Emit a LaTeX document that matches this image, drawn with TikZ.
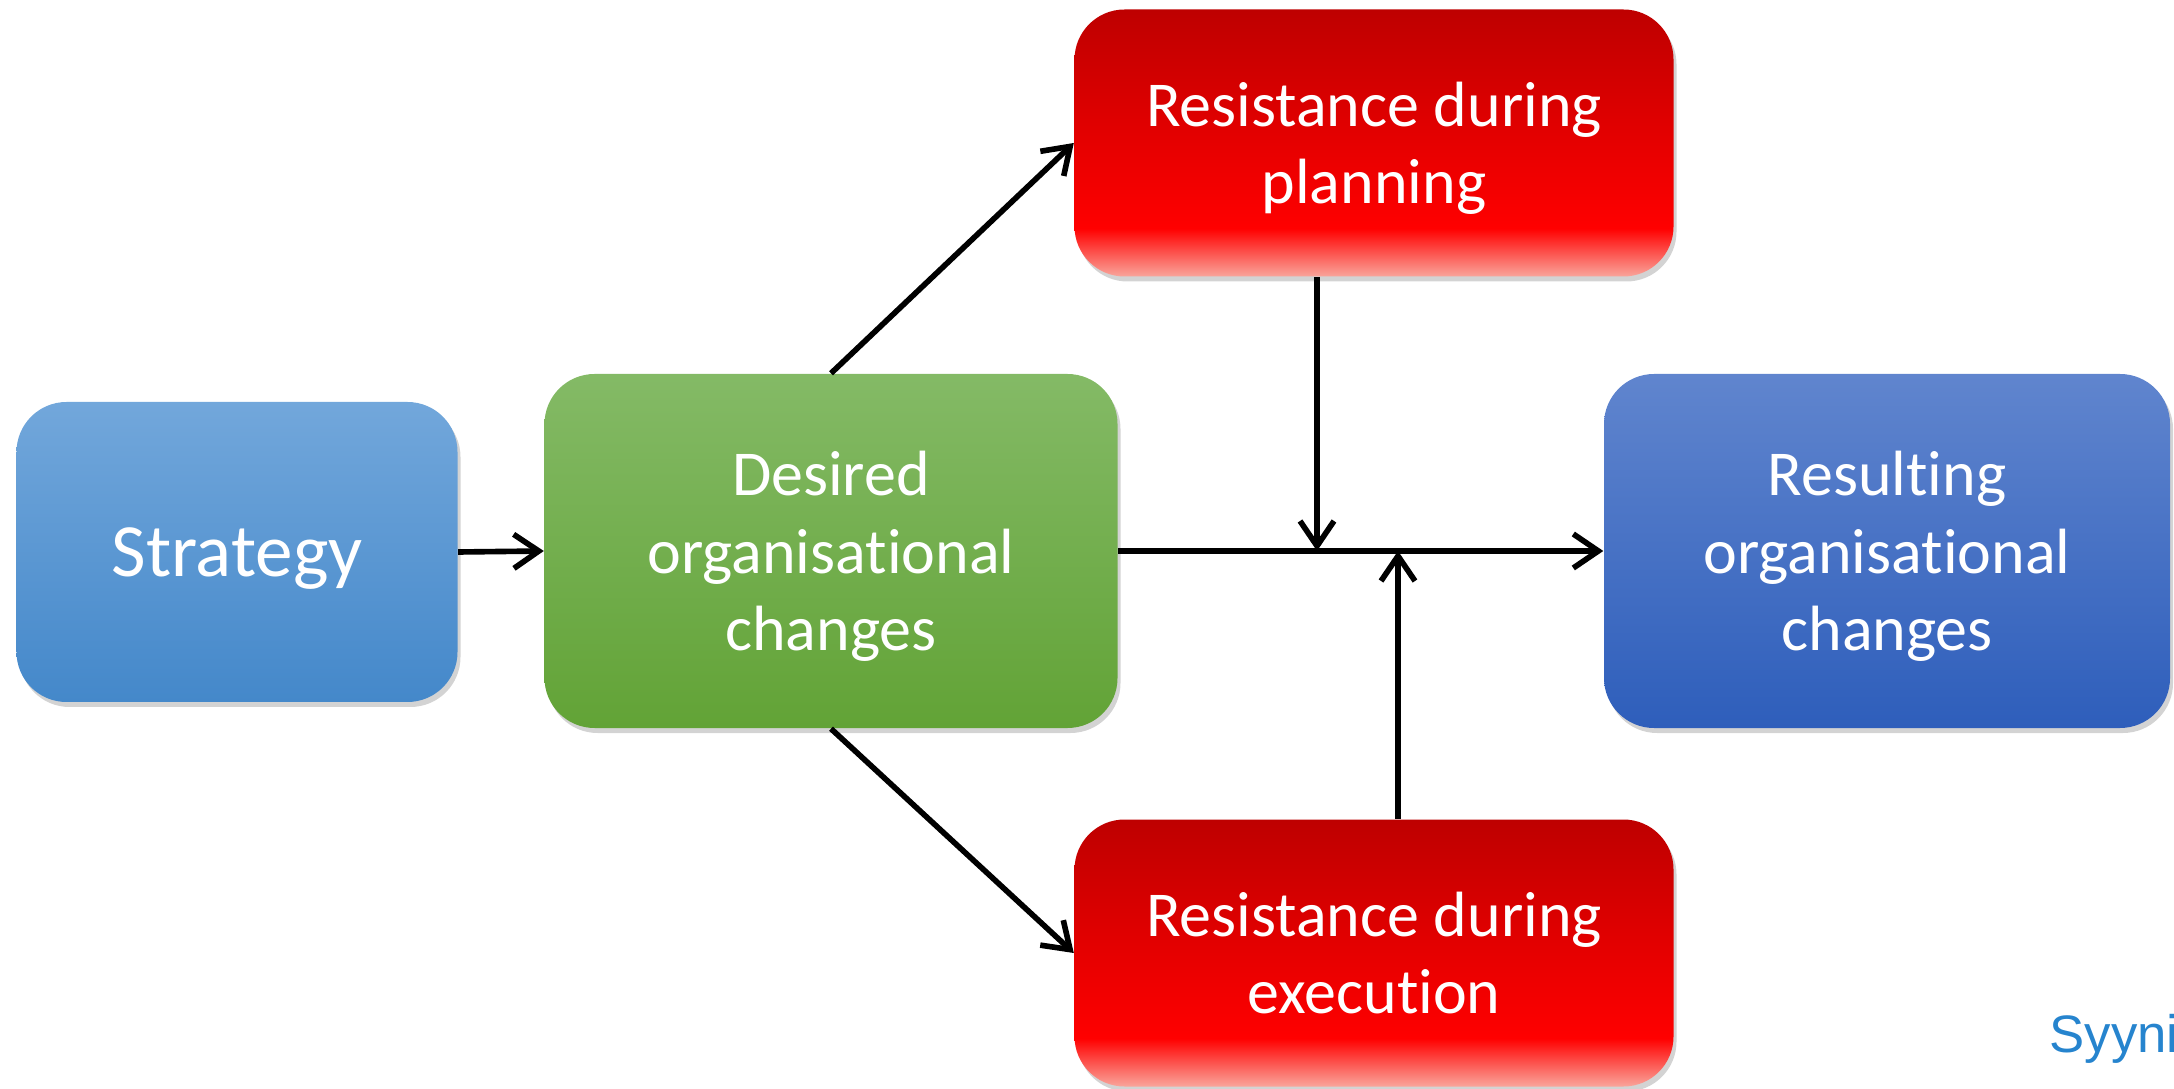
\documentclass[tikz,border=0pt]{standalone}
\usepackage{fontspec}
\setmainfont[Ligatures=NoCommon]{Carlito}
\newfontfamily\creditfont{Liberation Sans}
\usetikzlibrary{arrows.meta,shadows}

\definecolor{stratTop}{RGB}{114,167,219}
\definecolor{stratBot}{RGB}{68,136,202}
\definecolor{wishTop}{RGB}{132,186,102}
\definecolor{wishBot}{RGB}{98,163,54}
\definecolor{outTop}{RGB}{96,133,206}
\definecolor{outBot}{RGB}{46,94,187}
\definecolor{redTop}{RGB}{190,0,0}
\definecolor{redMid}{RGB}{255,0,0}
\definecolor{redLow}{RGB}{250,165,155}
\definecolor{creditBlue}{RGB}{38,132,206}

\pgfdeclareverticalshading{redfade}{100bp}{color(0bp)=(redLow); color(25bp)=(redLow); color(34bp)=(redMid); color(75bp)=(redTop); color(100bp)=(redTop)}

\tikzset{
    box/.style={rounded corners=0.5cm, text=white, align=center, inner sep=0pt,
        text depth=0pt, font=\fontsize{18.2}{22}\selectfont,
        drop shadow={shadow xshift=0.03cm, shadow yshift=-0.05cm, opacity=0.35}},
    resist/.style={box, shading=redfade, minimum width=5.99cm, minimum height=2.67cm},
    link/.style={-{Straight Barb[length=0.25cm,width=0.34cm]}, line width=1.6pt, black},
}

\begin{document}
\begin{tikzpicture}
    \useasboundingbox (0,0) rectangle (21.74,10.88);

    % Boxes
    \node[box, top color=stratTop, bottom color=stratBot, minimum width=4.41cm,
          minimum height=3.0cm, font=\fontsize{21.4}{25}\selectfont] (strategy) at (2.37,5.36) {Strategy};
    \node[box, top color=wishTop, bottom color=wishBot, minimum width=5.73cm,
          minimum height=3.54cm] (desired) at (8.31,5.37) {Desired\\organisational\\changes};
    \node[resist] (planning)  at (13.74,9.45) {Resistance during\\planning};
    \node[resist] (execution) at (13.74,1.35) {Resistance during\\execution};
    \node[box, top color=outTop, bottom color=outBot, minimum width=5.66cm,
          minimum height=3.54cm] (result) at (18.87,5.37) {Resulting\\organisational\\changes};

    \coordinate (dropIn) at (13.17,5.37);
    \coordinate (riseIn) at (13.98,5.37);

    % Arrows
    \draw[link] (strategy.east) -- (desired.west);
    \draw[link] (desired.north) -- (planning.west);
    \draw[link] (desired.south) -- (execution.west);
    \draw[link] (desired.east) -- (result.west);
    \draw[link] (planning.south -| dropIn) -- (dropIn);
    \draw[link] (execution.north -| riseIn) -- (riseIn);

    % Credit
    \node[anchor=base west, inner sep=0pt, text=creditBlue,
          font=\creditfont\fontsize{15}{18}\selectfont] (credit) at (20.49,0.36) {Syynimaa};
\end{tikzpicture}
\end{document}
